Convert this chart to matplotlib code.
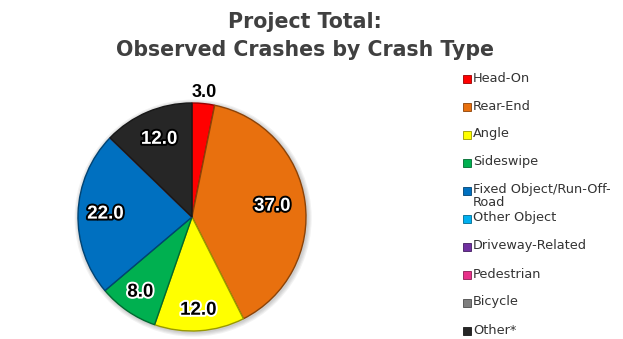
import matplotlib
matplotlib.use("Agg")
import matplotlib.pyplot as plt
import matplotlib.patheffects as pe
from matplotlib.patches import Rectangle, Circle
import numpy as np

categories = ["Head-On", "Rear-End", "Angle", "Sideswipe", "Fixed Object/Run-Off-\nRoad",
              "Other Object", "Driveway-Related", "Pedestrian", "Bicycle", "Other*"]
crashes = [3.0, 37.0, 12.0, 8.0, 22.0, 0.0, 0.0, 0.0, 0.0, 12.0]
colors = ["#FF0000", "#E8700E", "#FFFF00", "#00B050", "#0070C0",
          "#00B0F0", "#7030A0", "#E8318A", "#7F7F7F", "#262626"]
title = "Project Total:\nObserved Crashes by Crash Type"

# label placement per slice: radial distance and text style (light text on dark slices)
label_dist = [1.10, 0.71, 0.82, 0.80, 0.76, 0.75, 0.75, 0.75, 0.75, 0.74]
light_label = [False, True, False, False, True, True, True, True, True, True]

W, H = 623, 339
fig = plt.figure(figsize=(W / 100, H / 100), dpi=100)
fig.patch.set_facecolor("white")

cx, cy, r = 192, 217, 114
ax = fig.add_axes([(cx - r) / W, (H - cy - r) / H, 2 * r / W, 2 * r / H])
ax.set_axis_off()


def darker(c, f=0.7):
    rgb = np.array(matplotlib.colors.to_rgb(c))
    return tuple(rgb * f)


# soft shadow behind the whole pie
for k in range(4):
    ax.add_patch(Circle((0.01, -0.01), 1.0 + 0.01 * (4 - k), facecolor="black",
                        edgecolor="none", alpha=0.05, zorder=0, clip_on=False))

wedges, _ = ax.pie(crashes, colors=colors, startangle=90, counterclock=False,
                   radius=1.0, wedgeprops=dict(linewidth=1.0))
for w, c in zip(wedges, colors):
    w.set_edgecolor(darker(c, 0.6))
    w.set_zorder(2)
    w.set_clip_on(False)
ax.set_xlim(-1, 1)
ax.set_ylim(-1, 1)
ax.set_aspect("equal")

for w, v, d, light in zip(wedges, crashes, label_dist, light_label):
    if v <= 0:
        continue
    ang = np.deg2rad((w.theta1 + w.theta2) / 2)
    x, y = d * np.cos(ang), d * np.sin(ang)
    if d > 1:
        ax.text(x, y, f"{v:.1f}", ha="center", va="center", fontsize=13,
                fontweight="bold", color="black", family="Liberation Sans", zorder=5)
    else:
        fc, ec = ("white", "black") if light else ("black", "white")
        ax.text(x, y, f"{v:.1f}", ha="center", va="center", fontsize=13.5,
                fontweight="bold", color=fc, family="Liberation Sans", zorder=5,
                path_effects=[pe.withStroke(linewidth=2.8, foreground=ec)])

fig.text(305 / W, 1 - 36 / H, title, ha="center", va="center", fontsize=14.8,
         fontweight="bold", color="#404040", linespacing=1.45, family="DejaVu Sans")

# legend column
leg_top, leg_step = 79, 28
for i, (lab, c) in enumerate(zip(categories, colors)):
    yc = leg_top + i * leg_step
    s = 8
    fig.add_artist(Rectangle((463 / W, 1 - (yc + s / 2) / H), s / W, s / H,
                             transform=fig.transFigure, facecolor=c,
                             edgecolor=darker(c, 0.6), linewidth=0.6))
    fig.text(473 / W, 1 - (yc - 7.5) / H, lab, ha="left", va="top", fontsize=9.3,
             color="#333333", linespacing=0.9, family="DejaVu Sans")

fig.savefig("out.png", dpi=100, facecolor="white")
